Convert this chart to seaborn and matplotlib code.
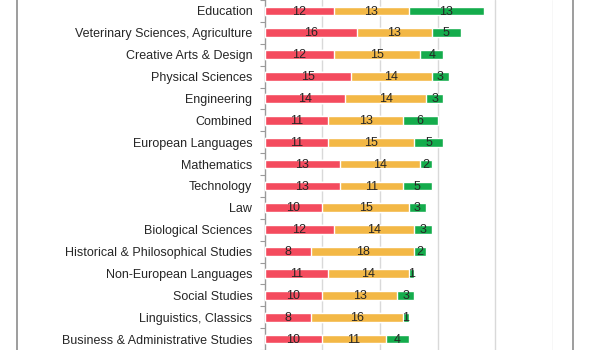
import matplotlib
matplotlib.use("Agg")
import matplotlib.pyplot as plt
from matplotlib.lines import Line2D
import numpy as np
import pandas as pd
import seaborn as sns

categories = [
    "Education",
    "Veterinary Sciences, Agriculture",
    "Creative Arts & Design",
    "Physical Sciences",
    "Engineering",
    "Combined",
    "European Languages",
    "Mathematics",
    "Technology",
    "Law",
    "Biological Sciences",
    "Historical & Philosophical Studies",
    "Non-European Languages",
    "Social Studies",
    "Linguistics, Classics",
    "Business & Administrative Studies",
]
red_vals = [12, 16, 12, 15, 14, 11, 11, 13, 13, 10, 12, 8, 11, 10, 8, 10]
yellow_vals = [13, 13, 15, 14, 14, 13, 15, 14, 11, 15, 14, 18, 14, 13, 16, 11]
green_vals = [13, 5, 4, 3, 3, 6, 5, 2, 5, 3, 3, 2, 1, 3, 1, 4]

RED = "#F44B5E"
YELLOW = "#F3B846"
GREEN = "#14AC4C"

sns.set_theme(style="white")
plt.rcParams["font.family"] = ["Liberation Sans", "DejaVu Sans"]

df = pd.DataFrame({
    "category": categories,
    "red": red_vals,
    "yellow": yellow_vals,
    "green": green_vals,
})
df["ry"] = df["red"] + df["yellow"]
df["total"] = df["ry"] + df["green"]

fig = plt.figure(figsize=(6, 3.5), dpi=100)
ax = fig.add_axes([264.7 / 600, 0, 288 / 600, 1])

bw = 0.40
sns.barplot(data=df, y="category", x="total", order=categories, color=GREEN,
            saturation=1, width=bw, ax=ax, orient="h", zorder=3)
sns.barplot(data=df, y="category", x="ry", order=categories, color=YELLOW,
            saturation=1, width=bw, ax=ax, orient="h", zorder=3)
sns.barplot(data=df, y="category", x="red", order=categories, color=RED,
            saturation=1, width=bw, ax=ax, orient="h", zorder=3)

txt_color = "#262626"
for i, row in df.iterrows():
    starts = [0, row["red"], row["ry"]]
    vals = [row["red"], row["yellow"], row["green"]]
    for s, v in zip(starts, vals):
        ax.text(s + v / 2, i + 0.03, f"{v}", ha="center", va="center",
                fontsize=9, color=txt_color, zorder=4)

ax.set_xlim(0, 50)
ax.set_ylim(15.426, -0.347)
ax.set_xticks([10, 20, 30, 40, 50])
ax.set_xticklabels([])
ax.tick_params(axis="x", length=0)
ax.xaxis.grid(True, color="#D9D9D9", linewidth=1.0, zorder=0)
ax.yaxis.grid(False)
ax.set_axisbelow(True)

ax.set_xlabel("")
ax.set_ylabel("")
ax.tick_params(axis="y", which="major", length=0, pad=8.9,
               labelsize=9, labelcolor=txt_color)
ax.set_yticks(np.arange(-0.5, len(categories) + 0.5, 1), minor=True)
ax.tick_params(axis="y", which="minor", length=3.6, width=0.8,
               color="#9A9A9A", direction="out", left=True)

for side in ["top", "right", "bottom"]:
    ax.spines[side].set_visible(False)
ax.spines["left"].set_color("#9A9A9A")
ax.spines["left"].set_linewidth(1.0)

for xpx, col in [(16.5, "#8C8C8C"), (573.3, "#8C8C8C")]:
    fig.add_artist(Line2D([xpx / 600, xpx / 600], [0, 1],
                          transform=fig.transFigure, color=col, linewidth=1.2))

fig.savefig("out.png", dpi=100)
